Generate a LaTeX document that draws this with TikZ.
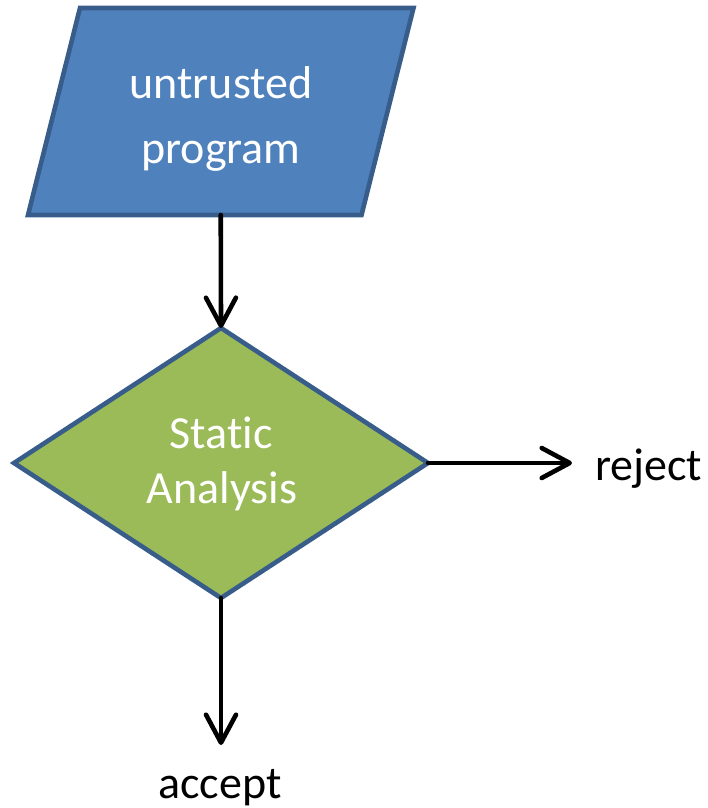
\documentclass[tikz,border=0pt]{standalone}
\usepackage{fontspec}
\setmainfont{Carlito}[Ligatures={NoCommon}]
\usetikzlibrary{arrows.meta,shapes.geometric}
\definecolor{progblue}{HTML}{4F81BD}
\definecolor{edgeblue}{HTML}{385D8A}
\definecolor{saggreen}{HTML}{9BBB59}
\tikzset{
  lbl/.style={inner sep=0pt, anchor=base, font=\fontsize{46}{55}\selectfont},
  inlbl/.style={lbl, text=white},
  arr/.style={line width=4.6pt, line cap=round, line join=round,
    -{Straight Barb[length=28pt,width=30pt,round]}},
  shapeedge/.style={draw=edgeblue, line width=4.6pt, line join=miter}
}
\begin{document}
\begin{tikzpicture}[x=1pt,y=-1pt]
\useasboundingbox (0,0) rectangle (708,808);
% parallelogram input
\node[rectangle, minimum width=333.5pt, minimum height=207pt, inner sep=0pt, outer sep=0pt] (prog) at (220.75,111.5) {};
\path[fill=progblue, shapeedge]
  ([xshift=26pt]prog.north west) -- ([xshift=26pt]prog.north east)
  -- ([xshift=-26pt]prog.south east) -- ([xshift=-26pt]prog.south west) -- cycle;
\node[inlbl] (t1) at (221,98) {untrusted};
\node[inlbl] (t2) at (221,163) {program};
% decision diamond
\node[diamond, fill=saggreen, shapeedge, minimum width=414pt, minimum height=270pt, inner sep=0pt, outer sep=0pt] (sa) at (221,463) {};
\node[inlbl] (s1) at (221,448) {Static};
\node[inlbl] (s2) at (222,503) {Analysis};
% outputs
\node[lbl, anchor=base west] (rej) at (595,480) {reject};
\node[lbl] (acc) at (220,798) {accept};
\coordinate (rejtip) at (572,463);
\coordinate (acctip) at (221,745);
% connectors
\draw[arr] (prog.south) -- (sa.north);
\draw[arr] (sa.east) -- (rejtip);
\draw[arr] (sa.south) -- (acctip);
\end{tikzpicture}
\end{document}
